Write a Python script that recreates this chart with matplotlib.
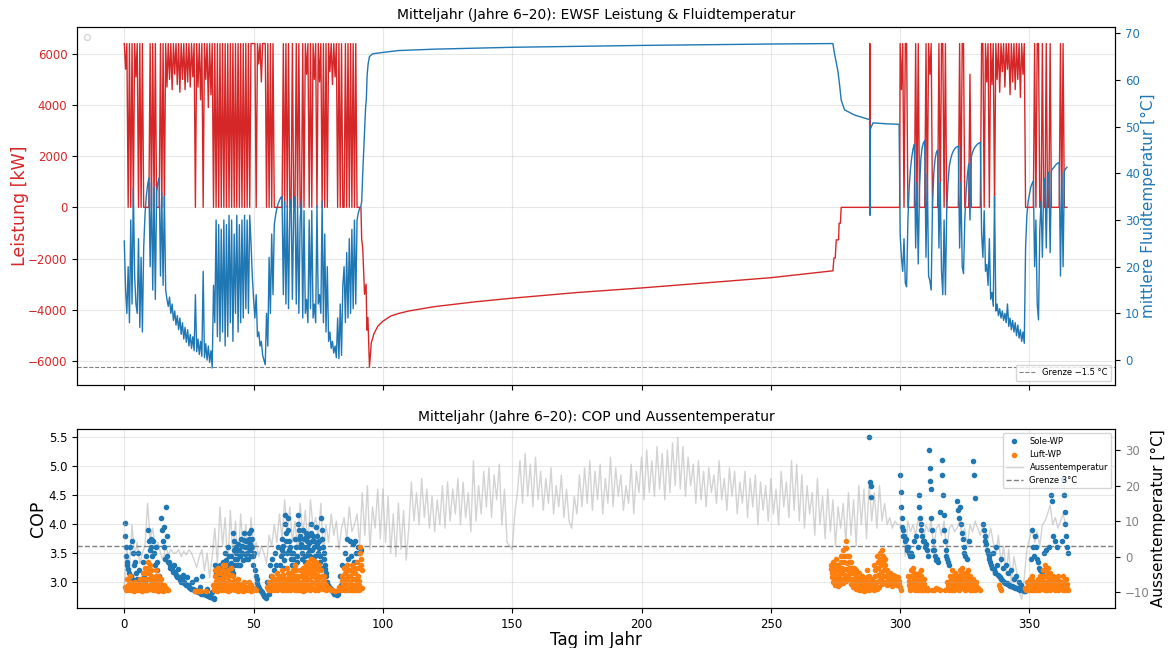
import numpy as np
import matplotlib
matplotlib.use("Agg")
import matplotlib.pyplot as plt

plt.rcParams['xtick.labelsize'] = 8.5
plt.rcParams['ytick.labelsize'] = 8.5

# ---------------- top panel: EWSF power [kW] and mean fluid temperature [°C]
# winter 1: half-day samples starting at day 0
w1_kw = [
    6400, 5400, 6400, 0, 6400, 0, 6400, 0, 6400, 5100,          # 0-4.5
    6400, 0, 6400, 0, 6400, 0, 0, 0, 0, 0,                      # 5-9.5
    6400, 0, 6400, 0, 6400, 0, 0, 0, 6400, 0,                   # 10-14.5
    6400, 0, 6400, 4700, 6400, 5000, 6400, 4600, 6400, 5200,    # 15-19.5
    6400, 4800, 6400, 4500, 6400, 5000, 6400, 4600, 6400, 4900, # 20-24.5
    6400, 4700, 6400, 5100, 6400, 0, 6400, 4700, 6400, 4200,   # 25-29.5
    6400, 0, 6400, 5000, 6400, 3900, 6400, 4400, 6400, 0,      # 30-34.5
    6400, 0, 6400, 0, 6400, 0, 6400, 0, 6400, 0,                # 35-39.5
    6400, 0, 6400, 0, 6400, 0, 6400, 0, 6400, 0,                # 40-44.5
    6400, 0, 6400, 0, 6400, 0, 6400, 0, 6400, 6400,             # 45-49.5
    6400, 6400, 0, 6400, 5600, 6400, 4900, 6400, 6400, 6400,    # 50-54.5
    0, 6400, 0, 6400, 0, 6400, 0, 0, 0, 0,                      # 55-59.5
    0, 0, 0, 6400, 0, 6400, 0, 6400, 0, 0,                      # 60-64.5
    6400, 0, 0, 6400, 0, 6400, 0, 0, 6400, 0,                   # 65-69.5
    6400, 5200, 6400, 0, 6400, 0, 6400, 5000, 6400, 0,          # 70-74.5
    6400, 4900, 6400, 0, 6400, 0, 6400, 0, 6400, 5300,          # 75-79.5
    6400, 4800, 6400, 5100, 6400, 0, 6400, 0, 6400, 0,          # 80-84.5
    0, 6400, 0, 6400, 0, 6400, 0, 6400, 0, 6400,                # 85-89.5
    0, 0, 0, 0,                                                 # 90-91.5
]
w1_temp = [
    25.5, 15, 10, 20, 8, 30, 12, 37, 18, 12,
    10, 26, 7, 22, 6, 24, 31, 35, 37.5, 39,
    20, 38, 15, 37, 13, 36, 38, 39, 18, 36,
    16, 35, 15, 13, 11.5, 13.5, 10, 12, 8.5, 10.5,
    7.5, 9.5, 6.5, 9, 5.5, 8, 4.5, 7, 3.8, 6.5,
    3, 5.5, 2.5, 5, 2, 14, 1.8, 4.5, 1.2, 4,
    0.8, 19, 0.5, 3.5, 0, 3, -0.5, 2, -1.7, 16,
    8, 30, 5, 29, 4, 28, 6, 30, 3, 29,
    5, 31, 8, 30, 4, 27, 10, 31, 6, 29,
    8, 30, 9, 31, 11, 30, 10, 31, 25, 18,
    13, 9, 14, 5, 6, 3, 4, 1, 0, -1,
    10, 3, 22, 10, 27, 14, 29, 31, 32.5, 33.5,
    34.2, 34.8, 35, 14, 34, 12, 33, 11, 32, 34.5,
    13, 32, 35, 12, 33, 10, 30, 34.5, 9, 32,
    10, 13, 8, 30, 11, 32, 9, 12, 8, 33,
    12, 14, 10, 34, 8, 27, 6, 20, 4, 6,
    2.5, 4, 1.5, 3, 0.5, 9, 0.3, 12, 1, 16,
    20, 8, 23, 9, 26, 10, 28, 11, 30, 12,
    30, 31.5, 32.5, 33,
]

# summer (regeneration) and autumn, irregular days
s_kw_day = [91.8, 92.2, 92.9, 93.5, 93.8, 94.2, 94.8, 95.5, 96.5, 98, 100, 103,
            106, 110, 120, 135, 150, 175, 200, 225, 250, 274.0, 274.4, 274.9,
            275.3, 276.2, 276.4, 276.9, 277.2, 288.2, 288.3, 288.5, 299.8]
s_kw = [-1250, -1600, -3400, -3000, -4800, -4300, -6250, -5300, -4950, -4650, -4450, -4250,
        -4150, -4050, -3880, -3700, -3550, -3330, -3150, -2950, -2750, -2480, -1980, -1980,
        -1270, -1270, -620, -620, 0, 0, 6400, 0, 0]
s_temp_day = [91.8, 92.2, 92.6, 92.9, 93.3, 93.6, 93.9, 94.3, 94.8, 96, 100, 106, 120,
              150, 200, 250, 274.0, 274.6, 275.9, 276.5, 277.2, 278.5, 282.3, 288.2,
              288.35, 288.5, 289.5, 295, 299.6]
s_temp = [34, 40, 45, 48.5, 54, 56, 61, 63.5, 65, 65.6, 65.9, 66.3, 66.6,
          67, 67.4, 67.7, 67.8, 65.7, 62, 59.4, 55.7, 53.6, 52.5, 51.5,
          31, 49.5, 50.8, 50.6, 50.5]

# winter 2: half-day samples starting at day 300
w2_kw = [
    6400, 4600, 6400, 0, 6400, 6400, 0, 0, 0, 0,                # 300
    0, 0, 6400, 0, 6400, 0, 0, 0, 0, 0,                         # 305
    6400, 0, 6400, 5200, 6400, 0, 0, 0, 0, 0,                   # 310
    6400, 0, 6400, 6400, 0, 6400, 0, 0, 0, 0,                   # 315
    0, 0, 0, 0, 0, 0, 6400, 0, 6400, 6400,                      # 320
    0, 0, 0, 0, 5200, 0, 0, 0, 0, 0,                            # 325
    0, 0, 0, 6400, 6400, 0, 6400, 4900, 6400, 0,                # 330
    6400, 4800, 6400, 0, 6400, 5000, 6400, 4500, 6400, 5300,    # 335
    6400, 4700, 6400, 5400, 6400, 4400, 6400, 4900, 6400, 4600, # 340
    6400, 5000, 6400, 4300, 6400, 5200, 6400, 0, 0, 0,          # 345
    0, 0, 0, 0, 6400, 0, 6400, 6400, 0, 0,                      # 350
    6400, 0, 0, 6400, 0, 0, 6400, 0, 0, 0,                      # 355
    0, 0, 0, 0, 6400, 0, 6400, 0, 0, 0,                         # 360
]
w2_temp = [
    27, 22, 19, 26, 16.5, 15.7, 30, 37, 41, 43.5,
    45.3, 46.2, 24, 38, 20.6, 37, 43, 45.5, 46.5, 47,
    22, 40, 18, 17, 15, 33, 40, 43, 44.5, 45,
    24, 38, 19, 14, 30, 14, 32, 38, 41.5, 43,
    44, 44.7, 45.2, 45.5, 45.7, 45.8, 24, 38, 20, 18.5,
    30, 36, 39.5, 42, 30, 43.5, 44.5, 45.2, 45.7, 46,
    46.3, 46.5, 46.6, 27, 22, 32, 19, 20.5, 16, 26,
    13, 14.5, 11.5, 35, 10.5, 12, 9.5, 11, 9, 10.5,
    8.5, 10, 8, 12, 7.2, 9, 6.5, 8.5, 6, 8,
    5.2, 7.5, 4.7, 6.5, 4, 6, 3.6, 24, 31, 34,
    35.5, 37, 37.8, 38.3, 20, 30, 12, 8.6, 28, 34,
    22, 37, 39, 24, 39.5, 40.2, 23, 40.6, 41, 41.3,
    41.7, 42, 42.2, 42.3, 18, 40, 20, 40.5, 41, 41.3,
]

# ---------------- bottom panel: COP and outdoor temperature
# outdoor temperature, one value per day from day 0
out_temp = [
    -8, 2, -3, 9, 0, 4, -2, 1, 3, 15,
    5, 8, 2, 4, 1, -1, 3, 0.5, 2, 1,
    1, 2, 0, 1.5, 0.5, 2, 1, -1, -3, 0,
    2, -4, 1, -6, 0, 8, -2, 14, 3, 11,
    -3, 13, 0, 10, -2, 12, 1, 9, -1, 11,
    2, 4, 0, 3, 1, -2, 6, 3, 9, 4,
    12, 5, 16, 7, 14, 4, 10, 2, 15, 6,
    13, 3, 16, 8, 11, 5, 15, 1, 9, 4,
    12, 6, 10, 2, 8, 11, 5, 14, 7, 9,
    12, 3, 18, 6, 20, 2, 14, 8, 19, 5,
    19, 4, 17, 1, 12, 0, 15, 2, 13, -1,
    8, 21, 10, 18, 9, 22, 11, 19, 8, 17,
    7, 16, 9, 20, 8, 21, 10, 19, 12, 22,
    9, 21, 11, 18, 7, 27, 10, 20, 12, 24,
    14, 25, 11, 23, 16, 26, 9, 19, 4, 3,
    2, 12, 18, 27, 15, 29, 17, 26, 14, 28,
    16, 24, 13, 22, 15, 25, 12, 20, 14, 23,
    11, 19, 10, 8, 17, 12, 23, 14, 25, 15,
    27, 13, 24, 16, 26, 12, 22, 15, 28, 14,
    25, 17, 23, 13, 20, 15, 26, 12, 24, 18,
    28, 16, 30, 18, 27, 17, 31, 19, 29, 16,
    30, 18, 32, 20, 33.5, 19, 31, 17, 28, 20,
    26, 15, 27, 16, 24, 14, 25, 18, 23, 15,
    27, 16, 22, 13, 25, 17, 24, 12, 21, 15,
    24, 11, 22, 14, 23, 9, 21, 13, 20, 10,
    22, 12, 19, 9, 24, 14, 21, 11, 27, 13,
    26, 10, 23, 8, 20, 12, 18, 6, 22, 9,
    17, 5, 19, 7, 16, 3, 14, 8, 15, 4,
    18, 6, 16, 3, 20, 9, 19, 5, 21, 10,
    18, 8, 20, 10, 15, 9, 11, 8, 10, 9,
    9, 8, 0, 10, 7, 9, 6, 11, 8, 4,
    9, 7, 10, 2, 8, 9, 6, 10, 1, 8,
    9, 7, 8, 10, 6, 8, 3, 9, 7, 10,
    8, 6, 9, 7, 5, 8, 4, 1, 6, -2,
    3, -5, 2, -8, 0, -4, -10, -12, -6, 2,
    5, 8, 4, 7, 3, 9, 10, 12, 14.5, 9,
    11, 8, 10, 12, 9,
]

# COP values per day (Sole-WP = ground source, Luft-WP = air source)
sole_w1 = [  # from day 0
    [4.02, 3.8, 3.6, 3.45, 3.35], [3.3, 3.22, 3.15], [3.6, 3.1, 3.05], [3.7, 3.5, 3.3],
    [3.35, 3.15, 3.05], [3.5, 3.2], [3.0, 2.95], [3.35, 3.1, 3.0], [3.45, 3.2],
    [3.9, 3.7, 3.55], [3.75, 3.6, 3.45], [3.7, 3.5, 3.3], [3.6, 3.35, 3.2], [3.1, 3.05],
    [4.1, 3.9, 3.7], [3.95, 3.6, 3.4], [4.3, 3.8, 3.45, 3.35], [3.35, 3.3, 3.25],
    [3.28, 3.22, 3.18], [3.3, 3.17, 3.12], [3.12, 3.08, 3.22], [3.08, 3.04, 3.0],
    [3.05, 3.0, 3.12], [3.0, 2.97, 2.95], [3.08, 2.95, 2.92], [2.92, 2.9, 2.88],
    [3.0, 2.88, 2.86], [2.86, 2.85, 3.05], [2.84, 2.83, 2.82], [2.92, 2.82, 2.8],
    [3.1, 2.8, 2.79], [2.79, 2.78, 2.88], [2.77, 2.76, 2.76], [2.75, 2.74, 2.82],
    [2.73, 2.72, 2.71],
    [3.3, 3.22, 3.15, 3.08], [3.25, 3.2, 3.12, 3.3], [3.2, 3.12, 3.05, 3.0],
    [3.35, 3.25, 3.15, 3.1], [3.5, 3.38, 3.25, 3.2], [3.6, 3.45, 3.3, 3.2],
    [3.45, 3.32, 3.2, 3.15], [3.85, 3.7, 3.55, 3.4, 3.3], [3.6, 3.5, 3.4, 3.3],
    [3.65, 3.55, 3.45, 3.3], [3.75, 3.62, 3.5, 3.38], [3.85, 3.72, 3.6, 3.48, 3.4],
    [3.7, 3.6, 3.5, 3.4], [3.85, 3.75, 3.65, 3.55, 3.45], [3.9, 3.75, 3.6, 3.45, 3.3],
    [3.5, 3.2, 3.1], [3.05, 2.98, 2.94], [2.9, 2.86, 2.84], [2.82, 2.8, 2.78],
    [2.76, 2.74, 2.73], [3.0, 2.9, 2.8], [3.3, 3.1], [3.4, 3.2], [3.5, 3.3], [3.6],
    [3.3, 3.45, 3.55], [3.75, 3.62, 3.5, 3.38, 3.25], [4.15, 4.0, 3.85, 3.7, 3.5],
    [4.1, 3.9, 3.7, 3.55], [3.6, 3.5, 3.4, 3.3], [3.5, 3.4, 3.3, 3.22],
    [3.75, 3.6, 3.45, 3.35], [4.15, 4.0, 3.9, 3.75, 3.6], [3.8, 3.65, 3.5, 3.4],
    [3.9, 3.75, 3.6, 3.45, 3.35], [3.85, 3.78, 3.7, 3.6, 3.5], [3.8, 3.68, 3.55, 3.45],
    [4.0, 3.85, 3.7, 3.55, 3.4], [3.8, 3.7, 3.6, 3.45, 3.3], [3.95, 3.8, 3.65, 3.5],
    [3.7, 3.58, 3.45, 3.35, 3.25], [4.1, 3.9, 3.75, 3.6], [3.5, 3.4, 3.3, 3.22, 3.15],
    [3.1, 3.0, 2.95], [2.92, 2.9, 2.88], [2.86, 2.84, 2.82], [2.8, 2.8, 2.79],
    [2.78, 2.8], [3.1, 2.95], [3.3, 3.05], [3.5, 3.2], [3.75, 3.4, 3.1], [3.7, 3.45],
    [3.65, 3.35], [3.7, 3.5], [3.6, 3.5], [3.55],
]
luft_w1 = [  # from day 0
    [2.92, 2.88, 2.86], [3.05, 2.95, 2.9, 2.86], [3.1, 3.0, 2.92, 2.86],
    [2.95, 2.88, 2.85], [3.0, 2.93, 2.88, 2.86], [2.97, 2.9, 2.86],
    [3.05, 2.97, 2.92, 2.88, 2.85], [3.15, 3.05, 2.98, 2.92, 2.86],
    [3.25, 3.15, 3.05, 2.95, 2.88, 2.86], [3.35, 3.25, 3.15, 3.05, 2.95, 2.88],
    [3.3, 3.2, 3.1, 3.0, 2.92, 2.86], [3.05, 2.98, 2.9, 2.86],
    [3.2, 3.1, 3.02, 2.95, 2.88, 2.85], [3.1, 3.0, 2.92, 2.86], [3.05, 2.97, 2.9, 2.85],
    [2.95, 2.9, 2.86], [2.9, 2.86],
    [], [], [], [], [], [], [], [], [], [],
    [2.84], [2.85, 2.84], [2.84], [], [2.85], [], [],
    [2.95, 2.9, 2.86], [3.2, 3.1, 3.02, 2.95, 2.9, 2.85], [3.25, 3.15, 3.05, 2.97, 2.9, 2.86],
    [3.15, 3.05, 2.97, 2.9, 2.86], [3.3, 3.2, 3.1, 3.0, 2.92, 2.86],
    [3.3, 3.18, 3.08, 2.98, 2.9, 2.85], [3.2, 3.1, 3.02, 2.95, 2.88, 2.86],
    [3.25, 3.12, 3.0, 2.93, 2.88], [3.1, 3.02, 2.95, 2.9, 2.86], [3.0, 2.94, 2.9, 2.85],
    [3.05, 2.97, 2.9, 2.86], [2.95, 2.9, 2.87, 2.85], [3.0, 2.94, 2.9, 2.86],
    [2.92, 2.88, 2.86], [3.0, 2.93, 2.88, 2.85], [2.95, 2.9, 2.86], [2.9, 2.86],
    [], [], [], [],
    [2.92, 2.88, 2.86], [3.0, 2.95, 2.9, 2.86], [3.1, 3.02, 2.95, 2.9, 2.87],
    [3.05, 2.98, 2.92, 2.86], [3.15, 3.07, 3.0, 2.93, 2.88], [3.1, 3.02, 2.95, 2.9, 2.86],
    [3.2, 3.12, 3.05, 2.97, 2.9, 2.86], [3.05, 2.98, 2.92, 2.86],
    [3.25, 3.15, 3.07, 2.98, 2.92, 2.86], [3.15, 3.07, 3.0, 2.93, 2.88],
    [3.2, 3.12, 3.05, 2.97, 2.9, 2.86], [3.3, 3.2, 3.1, 3.02, 2.95, 2.86],
    [3.1, 3.02, 2.95, 2.9, 2.87], [3.2, 3.1, 3.0, 2.95, 2.9, 2.85],
    [3.25, 3.15, 3.07, 2.98, 2.92, 2.86], [3.3, 3.2, 3.12, 3.03, 2.95, 2.88],
    [3.35, 3.25, 3.15, 3.05, 2.95, 2.86], [3.4, 3.3, 3.2, 3.1, 3.0, 2.9],
    [3.38, 3.28, 3.18, 3.08, 2.98, 2.86], [3.35, 3.25, 3.12, 3.02, 2.93, 2.86],
    [3.3, 3.2, 3.08, 2.98, 2.9], [3.2, 3.1, 3.0, 2.93, 2.88], [3.1, 3.02, 2.95, 2.86],
    [2.95, 2.9, 2.88], [2.9, 2.86], [2.86], [2.85], [2.86], [2.92, 2.88, 2.86],
    [3.1, 3.02, 2.95, 2.9, 2.86], [3.25, 3.15, 3.05, 2.97, 2.9, 2.86],
    [3.3, 3.2, 3.1, 3.02, 2.95, 2.86], [3.2, 3.1, 3.0, 2.94, 2.9, 2.86],
    [3.3, 3.22, 3.15, 3.05, 2.95, 2.87], [3.25, 3.15, 3.05, 2.97, 2.9, 2.86],
    [3.35, 3.25, 3.1, 3.02, 2.95, 2.86], [3.6, 3.5, 3.4, 3.3, 3.2, 2.9],
]
sole_w2 = [  # from day 288
    [5.5, 4.72, 4.66, 4.46], [], [], [], [], [], [], [], [], [], [], [],
    [4.85, 4.55, 4.3, 4.1, 3.95, 3.8], [3.9, 3.8, 3.7], [3.75, 3.6, 3.55],
    [3.6, 3.5, 3.45], [3.5, 3.45], [3.7], [3.8, 3.6], [4.5, 4.3, 4.1, 3.9],
    [4.0, 3.8, 3.7], [3.7, 3.6], [3.65, 3.55, 3.45], [5.27, 4.96, 4.75, 4.6],
    [4.1, 3.9, 3.7, 3.55], [3.55, 3.45, 3.38], [3.4, 3.35], [4.2],
    [5.1, 4.85, 4.5, 4.15], [3.9, 3.7, 3.55, 3.45], [3.4, 3.35, 3.3], [], [], [],
    [4.4, 4.25, 4.1], [4.3, 4.0, 3.85], [3.75, 3.6, 3.5], [3.45, 3.4], [3.7], [],
    [5.09, 4.84, 4.45], [], [], [], [4.0, 3.9, 3.8, 3.7], [3.65, 3.55, 3.5],
    [3.45, 3.4, 3.35], [3.3, 3.25, 3.5], [3.22, 3.18, 3.15], [3.6, 3.3, 3.12],
    [3.1, 3.08, 3.4], [3.05, 3.03, 3.25], [3.0, 2.99, 3.3], [2.98, 2.96, 3.15],
    [2.95, 2.94, 3.2], [2.93, 2.92, 3.05], [2.91, 2.9, 3.1], [2.89, 2.88, 3.0],
    [2.88, 2.87, 2.95], [2.86, 2.86, 2.85], [2.85, 2.86], [], [3.4],
    [3.9, 3.6, 3.45], [3.8, 3.6, 3.4], [3.35, 3.25], [3.2, 3.15], [3.5], [3.55],
    [3.6], [4.5, 4.4], [3.8, 3.7], [3.6], [], [3.7], [4.78, 4.5, 4.2, 4.0],
    [3.8, 3.6, 3.5],
]
luft_w2 = [  # from day 273
    [3.3, 3.22, 3.15, 3.08, 3.0], [3.35, 3.25, 3.15, 3.05, 2.95],
    [3.4, 3.3, 3.2, 3.1, 3.0, 2.93], [3.3, 3.2, 3.12, 3.05, 2.97],
    [3.45, 3.35, 3.25, 3.15, 3.05, 2.98], [3.55, 3.45, 3.35, 3.22, 3.12, 3.02],
    [3.7, 3.58, 3.45, 3.32, 3.2, 3.08], [3.45, 3.35, 3.25, 3.15, 3.05, 2.97],
    [3.35, 3.25, 3.15, 3.05, 2.98, 2.92], [3.25, 3.15, 3.07, 3.0, 2.93, 2.88],
    [3.2, 3.1, 3.02, 2.95, 2.9, 2.86], [3.15, 3.05, 2.98, 2.92, 2.87],
    [3.1, 3.02, 2.95, 2.9, 2.85], [3.05, 2.98, 2.92, 2.87],
    [3.2, 3.08, 3.0, 2.93, 2.88, 2.86], [3.1, 3.0, 2.94, 2.88], [3.05, 2.97, 2.91, 2.86],
    [3.3, 3.2, 3.1, 3.0, 2.93, 2.88], [3.45, 3.35, 3.25, 3.12, 3.02, 2.92],
    [3.5, 3.4, 3.3, 3.18, 3.07, 2.96], [3.55, 3.45, 3.33, 3.2, 3.1, 3.0],
    [3.4, 3.3, 3.2, 3.1, 3.02, 2.95], [3.2, 3.14, 3.08, 3.02, 2.98],
    [3.15, 3.1, 3.04, 2.98, 2.94], [3.12, 3.07, 3.02, 2.97], [3.1, 3.05, 3.0, 2.95],
    [3.08, 3.02, 2.97, 2.92], [2.86], [], [],
    [3.1, 3.02, 2.95, 2.9, 2.86], [3.2, 3.1, 3.0, 2.93, 2.88],
    [3.25, 3.15, 3.05, 2.97, 2.9, 2.86], [3.1, 3.02, 2.95, 2.9, 2.86],
    [3.15, 3.05, 2.97, 2.9, 2.87], [3.2, 3.1, 3.0, 2.94, 2.9, 2.86],
    [3.05, 2.97, 2.9, 2.86], [2.9, 2.86],
    [], [2.87], [2.86, 2.9], [2.88], [2.86], [], [2.87],
    [3.0, 2.94, 2.9, 2.86], [3.1, 3.02, 2.95, 2.9, 2.87], [3.2, 3.1, 3.02, 2.95, 2.9, 2.86],
    [3.15, 3.07, 3.0, 2.93, 2.88], [3.1, 3.02, 2.95, 2.9, 2.86], [3.2, 3.12, 3.05, 2.97, 2.9],
    [3.25, 3.15, 3.07, 3.0, 2.93, 2.86], [3.15, 3.07, 3.0, 2.93, 2.88],
    [3.2, 3.12, 3.05, 2.97, 2.9, 2.86], [3.1, 3.02, 2.95, 2.87], [3.05, 2.97, 2.9, 2.86],
    [3.0, 2.93, 2.88], [2.9, 2.86],
    [], [], [], [], [], [], [], [2.95, 2.9, 2.87], [], [], [], [], [], [], [], [], [],
    [2.9, 2.88, 2.86], [3.0, 2.94, 2.9, 2.86], [3.05, 2.98, 2.92, 2.86],
    [3.1, 3.02, 2.95, 2.9, 2.87], [3.0, 2.94, 2.9, 2.86], [3.05, 2.98, 2.92, 2.86],
    [3.1, 3.02, 2.95, 2.9, 2.88], [3.2, 3.1, 3.02, 2.95, 2.9, 2.86],
    [3.3, 3.2, 3.1, 3.0, 2.93, 2.87], [3.25, 3.15, 3.05, 2.97, 2.9, 2.86],
    [3.15, 3.07, 3.0, 2.93, 2.9], [3.1, 3.02, 2.95, 2.86], [3.05, 2.97, 2.92, 2.86],
    [3.1, 3.02, 2.95, 2.88], [3.0, 2.94, 2.9, 2.86], [3.1, 3.02, 2.95, 2.87],
    [3.05, 2.97, 2.9, 2.86],
]


def per_day_points(per_day, first_day):
    # spread the hourly values of each day across that day
    xs, ys = [], []
    for i, vals in enumerate(per_day):
        for k, v in enumerate(vals):
            xs.append(first_day + i + (k + 0.5) / len(vals))
            ys.append(v)
    return xs, ys


w1_day = np.arange(len(w1_kw)) * 0.5
w2_day = 300 + np.arange(len(w2_kw)) * 0.5
kw_day = np.concatenate([w1_day, s_kw_day, w2_day])
kw = np.concatenate([w1_kw, s_kw, w2_kw])
temp_day = np.concatenate([w1_day, s_temp_day, w2_day])
temp = np.concatenate([w1_temp, s_temp, w2_temp])

sx1, sy1 = per_day_points(sole_w1, 0)
sx2, sy2 = per_day_points(sole_w2, 288)
lx1, ly1 = per_day_points(luft_w1, 0)
lx2, ly2 = per_day_points(luft_w2, 273)
out_day = np.arange(len(out_temp))

fig, (ax1, ax3) = plt.subplots(2, 1, figsize=(11.68, 6.48), dpi=100, sharex=True,
                               gridspec_kw={'height_ratios': [2, 1]})
fig.subplots_adjust(left=0.066, right=0.955, top=0.958, bottom=0.062, hspace=0.165)

# Top: power and fluid temperature
ax1.plot(kw_day, kw, color='tab:red', lw=1)
ax1.set_ylabel('Leistung [kW]', color='tab:red', fontsize=12.5, labelpad=-1)
ax1.tick_params(axis='y', labelcolor='tab:red')
ax1.set_ylim(-6935, 7040)
ax1.grid(True, alpha=0.3)
ax1.legend(handles=[], loc='upper left', borderpad=0.2)
ax1.set_title('Mitteljahr (Jahre 6–20): EWSF Leistung & Fluidtemperatur', fontsize=10)

ax2 = ax1.twinx()
ax2.plot(temp_day, temp, color='tab:blue', lw=1)
ax2.axhline(-1.5, color='gray', ls='--', lw=0.8, label='Grenze −1.5 °C')
ax2.set_ylabel('mittlere Fluidtemperatur [°C]', color='tab:blue', fontsize=11, labelpad=1)
ax2.tick_params(axis='y', labelcolor='tab:blue')
ax2.set_ylim(-5.3, 71.3)
ax2.legend(loc='lower right', fontsize=6)

# Bottom: COP and outdoor temperature
ax3.scatter(sx1 + sx2, sy1 + sy2, s=9, color='tab:blue', label='Sole-WP')
ax3.scatter(lx1 + lx2, ly1 + ly2, s=9, color='tab:orange', label='Luft-WP')
ax3.set_ylabel('COP', fontsize=12.5, labelpad=1)
ax3.set_xlabel('Tag im Jahr', fontsize=12, labelpad=0)
ax3.set_ylim(2.555, 5.64)
ax3.grid(True, alpha=0.3)
ax3.set_title('Mitteljahr (Jahre 6–20): COP und Aussentemperatur', fontsize=10)

ax4 = ax3.twinx()
ax4.plot(out_day, out_temp, color='lightgray', lw=1, label='Aussentemperatur')
ax4.axhline(3, color='gray', ls='--', lw=1, label='Grenze 3°C')
ax4.set_ylabel('Aussentemperatur [°C]', fontsize=11, labelpad=1)
ax4.tick_params(axis='y', labelcolor='gray')
ax4.set_ylim(-14.4, 35.9)
ax3.set_zorder(ax4.get_zorder() + 1)
ax3.patch.set_visible(False)

h1, l1 = ax3.get_legend_handles_labels()
h2, l2 = ax4.get_legend_handles_labels()
ax3.legend(h1 + h2, l1 + l2, loc='upper right', fontsize=6)

ax3.set_xlim(-18.25, 383.25)

fig.savefig('out.png', dpi=100)
